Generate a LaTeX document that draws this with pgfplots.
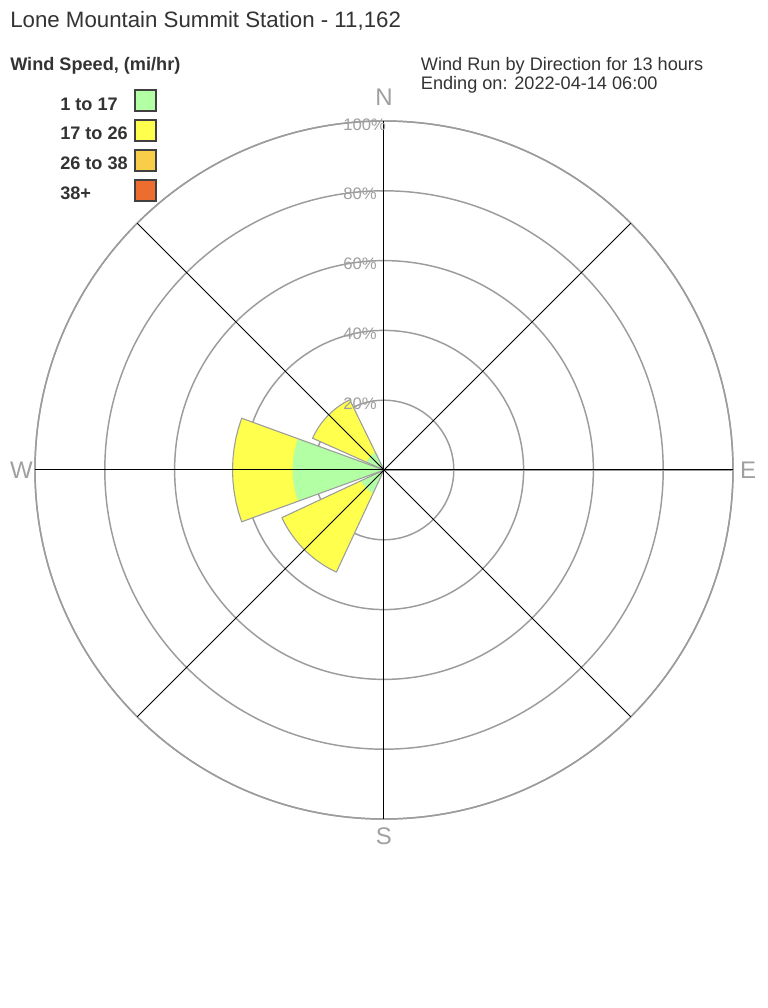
\documentclass[border=0pt]{standalone}
\usepackage{pgfplots}
\usepackage{pgfplotstable}
\pgfplotsset{compat=1.18}
\usepgfplotslibrary{polar}
\usepackage{fontspec}
\setmainfont{Liberation Sans}
\definecolor{cgreen}{HTML}{B3FFA3}
\definecolor{cyellow}{HTML}{FFFF4D}
\definecolor{cgold}{HTML}{F8CD48}
\definecolor{corange}{HTML}{EC6D2E}
\definecolor{ctext}{HTML}{333333}
\definecolor{cgrid}{HTML}{9C9C9C}
\definecolor{clabel}{HTML}{A0A0A0}
\definecolor{cbox}{HTML}{404040}

% angle (deg, math convention) and radius (percent)
\pgfplotstableread{
a r
0 0
160 43.4
164 43.4
168 43.4
172 43.4
176 43.4
180 43.4
184 43.4
188 43.4
192 43.4
196 43.4
200 43.4
0 0
}\Wyellow
\pgfplotstableread{
a r
0 0
160 26.2
164 26.2
168 26.2
172 26.2
176 26.2
180 26.2
184 26.2
188 26.2
192 26.2
196 26.2
200 26.2
0 0
}\Wgreen
\pgfplotstableread{
a r
0 0
116 22.4
120 22.4
124 22.4
128 22.4
132 22.4
136 22.4
140 22.4
144 22.4
148 22.4
152 22.4
156 22.4
0 0
}\NWyellow
\pgfplotstableread{
a r
0 0
116 5.5
120 5.5
124 5.5
128 5.5
132 5.5
136 5.5
140 5.5
144 5.5
148 5.5
152 5.5
156 5.5
0 0
}\NWgreen
\pgfplotstableread{
a r
0 0
205 32.3
209 32.3
213 32.3
217 32.3
221 32.3
225 32.3
229 32.3
233 32.3
237 32.3
241 32.3
245 32.3
0 0
}\SWyellow
\pgfplotstableread{
a r
0 0
205 7.3
209 7.3
213 7.3
217 7.3
221 7.3
225 7.3
229 7.3
233 7.3
237 7.3
241 7.3
245 7.3
0 0
}\SWgreen

\begin{document}
\begin{tikzpicture}
\useasboundingbox (0,0) rectangle (576pt,756pt);
\fill[white] (0,0) rectangle (576pt,756pt);

% titles
\node[anchor=base west, inner sep=0pt, text=ctext, font=\fontsize{16.7}{19}\selectfont] at (7.5pt,735pt) {Lone Mountain Summit Station - 11,162};
\node[anchor=base west, inner sep=0pt, text=ctext, font=\bfseries\fontsize{13.6}{16}\selectfont] at (7.5pt,703pt) {Wind Speed, (mi/hr)};
\node[anchor=base west, inner sep=0pt, text=ctext, font=\fontsize{13.6}{16}\selectfont] at (315.5pt,703pt) {Wind Run by Direction for 13 hours};
\node[anchor=base west, inner sep=0pt, text=ctext, font=\fontsize{13.6}{16}\selectfont] at (315.5pt,688.8pt) {Ending on: 2022-04-14 06:00};

% legend
\begin{scope}[every node/.style={anchor=base west, inner sep=0pt, text=ctext, font=\bfseries\fontsize{13.6}{16}\selectfont}]
\node at (45pt,673pt) {1 to 17};
\node at (45pt,651pt) {17 to 26};
\node at (45pt,628.5pt) {26 to 38};
\node at (45pt,606pt) {38+};
\end{scope}
\filldraw[fill=cgreen, draw=cbox, line width=0.9pt] (101.25pt,672.75pt) rectangle (117pt,688.5pt);
\filldraw[fill=cyellow, draw=cbox, line width=0.9pt] (101.25pt,650.25pt) rectangle (117pt,666pt);
\filldraw[fill=cgold, draw=cbox, line width=0.9pt] (101.25pt,627.75pt) rectangle (117pt,643.5pt);
\filldraw[fill=corange, draw=cbox, line width=0.9pt] (101.25pt,605.25pt) rectangle (117pt,621pt);

\begin{polaraxis}[
  at={(288pt,403.5pt)}, anchor=center,
  width=523.5pt, height=523.5pt, scale only axis,
  ymin=0, ymax=100,
  xtick=\empty, ytick={20,40,60,80,100},
  yticklabel={\relax},
  ymajorgrids=true, xmajorgrids=false,
  major grid style={cgrid, line width=1.1pt},
  axis line style={cgrid, line width=1.1pt},
  major tick length=0pt,
  tick style={draw=none},
  clip=false,
]
\addplot[fill=cyellow, draw=none] table[x=a,y=r] {\Wyellow};
\addplot[fill=cyellow, draw=none] table[x=a,y=r] {\NWyellow};
\addplot[fill=cyellow, draw=none] table[x=a,y=r] {\SWyellow};
\addplot[fill=cgreen, draw=none] table[x=a,y=r] {\Wgreen};
\addplot[fill=cgreen, draw=none] table[x=a,y=r] {\NWgreen};
\addplot[fill=cgreen, draw=none] table[x=a,y=r] {\SWgreen};
\addplot[draw=cgrid, line width=0.8pt, line join=round] table[x=a,y=r] {\Wyellow};
\addplot[draw=cgrid, line width=0.8pt, line join=round] table[x=a,y=r] {\NWyellow};
\addplot[draw=cgrid, line width=0.8pt, line join=round] table[x=a,y=r] {\SWyellow};
% spokes
\addplot[black, line width=0.75pt] coordinates {(90,100) (270,100)};
\addplot[black, line width=0.75pt] coordinates {(0,100) (180,100)};
\addplot[black, line width=0.75pt] coordinates {(45,100) (225,100)};
\addplot[black, line width=0.75pt] coordinates {(135,100) (315,100)};
% ring labels
\begin{scope}[every node/.style={anchor=west, inner sep=0pt, text=clabel, font=\fontsize{12.5}{14}\selectfont, xshift=-30.75pt, yshift=-2.5pt}]
\node at (axis cs:90,20) {20\%};
\node at (axis cs:90,40) {40\%};
\node at (axis cs:90,60) {60\%};
\node at (axis cs:90,80) {80\%};
\node at (axis cs:90,100) {100\%};
\end{scope}
% compass
\begin{scope}[every node/.style={anchor=center, inner sep=0pt, text=clabel, font=\fontsize{18}{20}\selectfont}]
\node at (axis cs:90,106.9) {N};
\node at (axis cs:0,104.3) {E};
\node at (axis cs:270,105) {S};
\node at (axis cs:180,103.9) {W};
\end{scope}
\end{polaraxis}
\end{tikzpicture}
\end{document}
